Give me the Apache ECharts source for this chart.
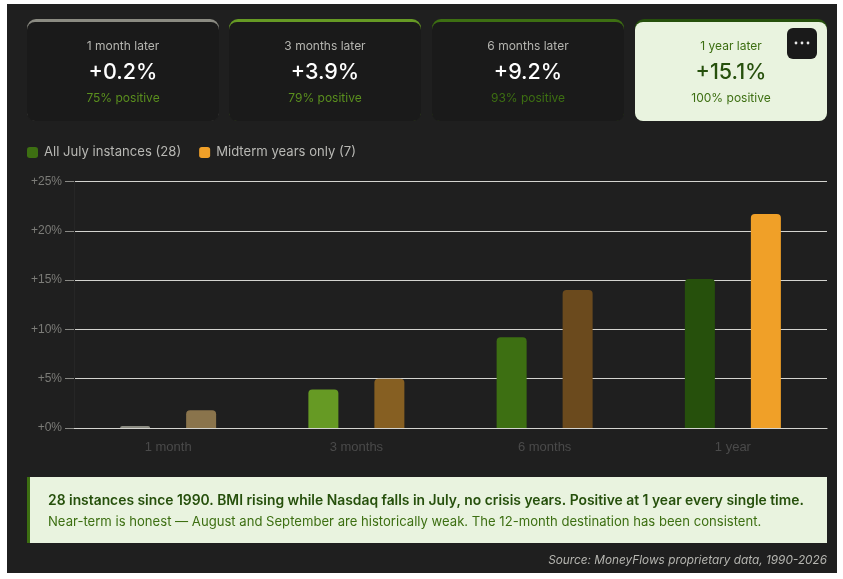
<!DOCTYPE html>
<html>
<head>
<meta charset="utf-8">
<script src="https://cdn.jsdelivr.net/npm/echarts@6/dist/echarts.min.js"></script>
<style>
  html, body { margin: 0; padding: 0; background: #fff; }
  #panel { position: absolute; left: 7px; top: 4px; width: 830px; height: 569px; background: #1f1f1f; }
  #chart { position: absolute; left: 0; top: 0; width: 843px; height: 579px; }
</style>
</head>
<body>
<div id="panel"></div>
<div id="chart"></div>
<script>
// Forward returns after a July signal, by holding period
const categories = ['1 month', '3 months', '6 months', '1 year'];
const allInstances = [0.2, 3.9, 9.2, 15.1];
const midtermYears = [1.8, 5.0, 14.0, 21.7];
const allColors = ['#8b8b82', '#669a24', '#3d6f12', '#26500c'];
const midtermColors = ['#8a744c', '#865f22', '#6b4a1d', '#f0a028'];
const tickValues = [0, 5, 10, 15, 20, 25];

// Summary cards
const cardLabels = ['1 month later', '3 months later', '6 months later', '1 year later'];
const cardValues = ['+0.2%', '+3.9%', '+9.2%', '+15.1%'];
const cardPositive = ['75% positive', '79% positive', '93% positive', '100% positive'];
const cardAccent = ['#8b8b82', '#669a24', '#3d6f12', '#26500c'];
const cardLeft = [27, 229, 432, 635];

const seriesNames = ['All July instances (28)', 'Midterm years only (7)'];
const noteHead = '28 instances since 1990. BMI rising while Nasdaq falls in July, no crisis years. Positive at 1 year every single time.';
const noteBody = 'Near-term is honest \u2014 August and September are historically weak. The 12-month destination has been consistent.';
const sourceLine = 'Source: MoneyFlows proprietary data, 1990-2026';

const uiFont = 'Inter, "Noto Sans", sans-serif';
const graphics = [];

cardLeft.forEach(function (x, i) {
  const hi = i === 3;
  const w = 192, cx = x + w / 2;
  graphics.push(
    { type: 'rect', z: 1, shape: { x: x, y: 19, width: w, height: 102, r: 9 }, style: { fill: cardAccent[i] } },
    { type: 'rect', z: 1, shape: { x: x, y: 22, width: w, height: 99, r: 8 }, style: { fill: hi ? '#e9f3df' : '#1a1a1a' } },
    { type: 'text', z: 3, style: { text: cardLabels[i], x: cx, y: 46, align: 'center', verticalAlign: 'middle',
        font: '12px ' + uiFont, fill: hi ? '#3d6f12' : '#b5b5b0' } },
    { type: 'text', z: 3, style: { text: cardValues[i], x: cx, y: 73, align: 'center', verticalAlign: 'middle',
        font: '500 21.5px ' + uiFont, fill: hi ? '#26500c' : '#ffffff' } },
    { type: 'text', z: 3, style: { text: cardPositive[i], x: cx, y: 98.5, align: 'center', verticalAlign: 'middle',
        font: '12px ' + uiFont, fill: hi ? '#3d6f12' : (i === 2 ? '#3d6f12' : '#5a8f1e') } }
  );
});

// Overflow button on the highlighted card
graphics.push({ type: 'rect', z: 4, shape: { x: 787, y: 28, width: 30, height: 31, r: 6 }, style: { fill: '#1a1a1a' } });
[796, 802, 808].forEach(function (cx) {
  graphics.push({ type: 'circle', z: 5, shape: { cx: cx, cy: 43, r: 1.4 }, style: { fill: '#e8e8e8' } });
});

// Callout below the chart
graphics.push(
  { type: 'rect', z: 1, shape: { x: 27, y: 477, width: 800, height: 66 }, style: { fill: '#e9f3df' } },
  { type: 'rect', z: 2, shape: { x: 27, y: 477, width: 3, height: 66 }, style: { fill: '#3d6f12' } },
  { type: 'text', z: 3, style: { text: noteHead, x: 48, y: 500.5, verticalAlign: 'middle', font: '600 13.87px ' + uiFont, fill: '#26500c' } },
  { type: 'text', z: 3, style: { text: noteBody, x: 48, y: 522, verticalAlign: 'middle', font: '13.1px ' + uiFont, fill: '#3d6f12' } },
  { type: 'text', z: 3, style: { text: sourceLine, x: 827, y: 560.5, align: 'right', verticalAlign: 'middle', font: 'italic 11.8px ' + uiFont, fill: '#b5b5b0' } }
);

function colored(values, colors) {
  return values.map(function (v, i) { return { value: v, itemStyle: { color: colors[i] } }; });
}

const chart = echarts.init(document.getElementById('chart'), null, { renderer: 'canvas' });
chart.setOption({
  animation: false,
  backgroundColor: 'transparent',
  grid: { left: 74, right: 16, top: 181.5, height: 246.5 },
  legend: {
    left: 27, top: 146, padding: 0, itemWidth: 11, itemHeight: 11, itemGap: 18, icon: 'roundRect',
    data: seriesNames,
    textStyle: { color: '#b8b8b4', fontFamily: uiFont, fontSize: 13.1, padding: [1, 0, 0, 1] }
  },
  xAxis: {
    type: 'category',
    data: categories,
    axisTick: { show: false },
    axisLine: { lineStyle: { color: '#d4d4d0', width: 1.2 } },
    axisLabel: { color: '#4a4a4a', fontFamily: '"Liberation Sans", Arial, sans-serif', fontSize: 13, margin: 13 }
  },
  yAxis: {
    type: 'value',
    min: 0, max: 25, interval: 5,
    axisLine: { show: true, lineStyle: { color: '#262626' } },
    axisTick: { show: true, length: 9, lineStyle: { color: '#8a8a86' } },
    splitLine: { lineStyle: { color: '#d4d4d0', width: 1.2 } },
    axisLabel: {
      color: '#7c7c78', fontFamily: '"Liberation Sans", Arial, sans-serif', fontSize: 12, margin: 12,
      formatter: function (v) { return tickValues.indexOf(v) >= 0 ? '+' + v + '%' : ''; }
    }
  },
  series: [
    { name: seriesNames[0], type: 'bar', barWidth: 30, barGap: '120%',
      itemStyle: { color: '#3d6f12', borderRadius: [4, 4, 0, 0] }, data: colored(allInstances, allColors) },
    { name: seriesNames[1], type: 'bar', barWidth: 30,
      itemStyle: { color: '#f0a028', borderRadius: [4, 4, 0, 0] }, data: colored(midtermYears, midtermColors) }
  ],
  graphic: { elements: graphics }
});
</script>
</body>
</html>
